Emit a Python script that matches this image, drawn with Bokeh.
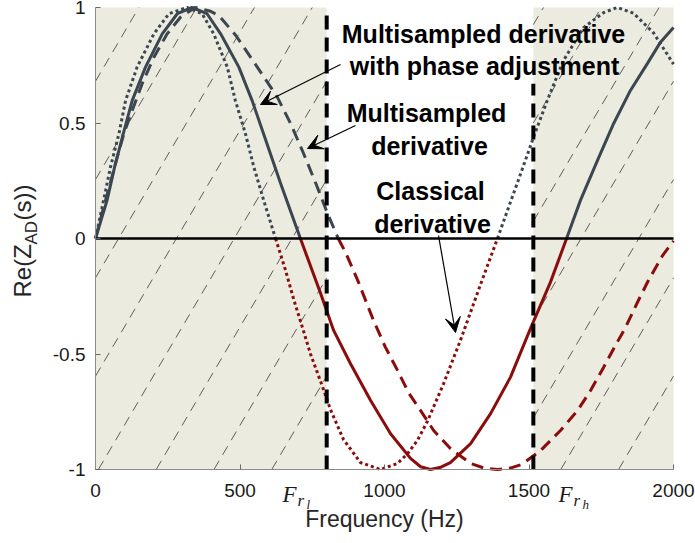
import numpy as np
from bokeh.plotting import figure
from bokeh.models import Range1d, FixedTicker, NumeralTickFormatter, Label, Arrow, VeeHead
from bokeh.embed import file_html
from bokeh.resources import INLINE

# ---------------- data ----------------
freq_classical = [0, 28, 52, 81, 104, 144, 202, 254, 317, 369, 409, 456, 484, 519, 548, 582, 623,
                  657, 685, 716, 744, 785, 813, 858, 917, 986, 1045, 1080, 1114, 1149, 1204, 1263,
                  1332, 1391, 1425, 1471, 1516, 1564, 1619, 1689, 1758, 1806, 1862, 1931, 2000]
re_classical = [0, 0.165, 0.31, 0.453, 0.597, 0.742, 0.886, 0.973, 1.0, 0.973, 0.886, 0.742, 0.597,
                0.453, 0.309, 0.165, 0,
                -0.135, -0.26, -0.385, -0.5, -0.64, -0.74, -0.87, -0.97, -1.0, -0.974, -0.931,
                -0.874, -0.79, -0.63, -0.44, -0.2, 0,
                0.12, 0.28, 0.44, 0.6, 0.77, 0.913, 0.978, 1.0, 0.975, 0.89, 0.755]

freq_multi = [0, 25, 52, 75, 98, 127, 161, 202, 248, 294, 345, 395, 427, 485, 561, 630, 675, 720,
              768, 803, 840,
              865, 907, 962, 1003, 1045, 1083, 1125, 1170, 1228, 1298, 1345, 1391, 1435, 1475, 1540,
              1609, 1668, 1713, 1758, 1799, 1834, 1875, 1913, 1962, 2000]
re_multi = [0, 0.12, 0.244, 0.352, 0.453, 0.554, 0.669, 0.785, 0.886, 0.958, 1.0, 0.985, 0.965,
            0.88, 0.74, 0.61, 0.498, 0.368, 0.221, 0.108, 0,
            -0.06, -0.18, -0.355, -0.47, -0.571, -0.667, -0.745, -0.831, -0.909, -0.974, -0.994,
            -1.0, -0.994, -0.978, -0.918, -0.831, -0.745, -0.658, -0.558, -0.463, -0.385, -0.277,
            -0.182, -0.074, -0.01]

freq_phase = [0, 40, 66, 96, 127, 173, 231, 283, 334, 386, 433, 496, 542, 588, 640, 709,
              779, 824, 882, 952, 1021, 1090, 1125, 1159, 1195, 1228, 1298, 1367, 1436, 1505,
              1574, 1630, 1678, 1737, 1793, 1851, 1910, 1955, 2000]
re_phase = [0, 0.165, 0.309, 0.453, 0.597, 0.742, 0.886, 0.973, 1.0, 0.973, 0.886, 0.742, 0.597,
            0.43, 0.24, 0,
            -0.238, -0.398, -0.541, -0.701, -0.845, -0.952, -0.988, -1.0, -0.99, -0.97, -0.888,
            -0.758, -0.6, -0.39, -0.19, 0,
            0.165, 0.338, 0.498, 0.641, 0.758, 0.85, 0.913]

F_RL = 800          # F_{r_l}
F_RH = 1515         # F_{r_h}
F_RH_TOP = 0.67     # top of the F_{r_h} marker line
x_ticks = [0, 500, 1000, 1500, 2000]
y_ticks = [-1, -0.5, 0, 0.5, 1]

# ---------------- layout ----------------
W, H = 695, 543
L, R, T, B = 95, 22, 7, 74          # where the data area sits inside the canvas
XMIN, XMAX, YMIN, YMAX = 0, 2000, -1, 1
FW, FH = W - L - R, H - T - B


def dx(px):
    return XMIN + (px - L) / FW * (XMAX - XMIN)


def dy(py):
    return YMAX - (py - T) / FH * (YMAX - YMIN)


GRAY = "#3b4650"
RED = "#8a0c0c"
BEIGE = "#ecebdf"
SANS = "Liberation Sans"
SERIF = "Liberation Serif"

p = figure(width=W, height=H, x_range=Range1d(dx(0), dx(W)), y_range=Range1d(dy(H), dy(0)),
           output_backend="svg", toolbar_location=None,
           min_border_left=0, min_border_right=0, min_border_top=0, min_border_bottom=0)
p.outline_line_color = None
p.xgrid.visible = False
p.ygrid.visible = False
p.background_fill_color = "white"
p.border_fill_color = "white"

# shaded regions
p.quad(left=[XMIN, F_RH], right=[F_RL, XMAX], bottom=[YMIN, YMIN], top=[YMAX, YMAX],
       fill_color=BEIGE, line_color=None)

# diagonal dashed hatching inside shaded regions
run = 470.0   # Hz per unit of y
xs, ys = [], []
for a, b in [(XMIN, F_RL), (F_RH, XMAX)]:
    for k in range(-6, 12):
        c = 10 + 200 * k
        y_lo = max(YMIN, (a - c) / run - 1)
        y_hi = min(YMAX, (b - c) / run - 1)
        if y_hi > y_lo:
            xs.append([c + (y_lo + 1) * run, c + (y_hi + 1) * run])
            ys.append([y_lo, y_hi])
p.multi_line(xs, ys, line_color="#3a3a3a", line_width=0.8, line_dash="10 7")


def draw_curve(fx, fy, dash, width):
    seg_x, seg_y = [fx[0]], [fy[0]]
    for i in range(1, len(fx)):
        seg_x.append(fx[i])
        seg_y.append(fy[i])
        if (fy[i] == 0 and i < len(fx) - 1) or i == len(fx) - 1:
            mid = seg_y[len(seg_y) // 2]
            col = GRAY if mid >= 0 else RED
            p.line(seg_x, seg_y, line_color=col, line_width=width, line_dash=dash)
            seg_x, seg_y = [fx[i]], [fy[i]]


draw_curve(freq_classical, re_classical, "3 3", 3)
draw_curve(freq_multi, re_multi, "12 7", 3)
draw_curve(freq_phase, re_phase, "solid", 3)

# zero line
p.line([XMIN, XMAX], [0, 0], line_color="black", line_width=2.5)

# F_r markers
p.segment(x0=[F_RL, F_RH], y0=[YMIN, YMIN], x1=[F_RL, F_RH], y1=[YMAX, F_RH_TOP],
          line_color="black", line_width=4, line_dash="14 8")

# axes (library axes pinned to the data area's edges)
p.xaxis.fixed_location = YMIN
p.yaxis.fixed_location = XMIN
p.xaxis.bounds = (XMIN, XMAX)
p.yaxis.bounds = (YMIN, YMAX)
p.xaxis.ticker = FixedTicker(ticks=x_ticks)
p.yaxis.ticker = FixedTicker(ticks=y_ticks)
p.yaxis.formatter = NumeralTickFormatter(format="0.[0]")
for ax in (p.xaxis[0], p.yaxis[0]):
    ax.axis_line_color = "#8c8c8c"
    ax.axis_line_width = 1
    ax.major_tick_in = 5
    ax.major_tick_out = 0
    ax.major_tick_line_color = "#666666"
    ax.minor_tick_line_color = None
    ax.major_label_text_font = SANS
    ax.major_label_text_font_size = "19px"
    ax.major_label_text_color = "#1a1a1a"
p.xaxis.major_label_standoff = 14
p.yaxis.major_label_standoff = 10
p.xaxis.axis_label = "Frequency (Hz)"
p.xaxis.axis_label_text_font = SANS
p.xaxis.axis_label_text_font_size = "23px"
p.xaxis.axis_label_text_font_style = "normal"
p.xaxis.axis_label_text_color = "#262626"
p.xaxis.axis_label_standoff = 6

# y axis label  Re(Z_AD(s))  (rotated pieces, positioned by their centre line)
ang = np.pi / 2
for txt, cx, start_py, size in [("Re(Z", 22, 297, "24px"), ("AD", 31, 244, "17px"),
                                ("(s))", 22, 220, "24px")]:
    p.add_layout(Label(x=dx(cx), y=dy(start_py), text=txt, angle=ang, text_align="left",
                       text_baseline="middle", text_font=SANS, text_font_size=size,
                       text_color="#262626"))

# F_{r_l}, F_{r_h} labels under the axis
for left_px, sub2 in [(282, "l"), (558, "h")]:
    p.add_layout(Label(x=dx(left_px), y=dy(494), text="F", text_font=SERIF,
                       text_font_style="italic", text_font_size="23px", text_align="left",
                       text_baseline="middle", text_color="#1a1a1a"))
    p.add_layout(Label(x=dx(left_px + 15), y=dy(500), text="r", text_font=SERIF,
                       text_font_style="italic", text_font_size="17px", text_align="left",
                       text_baseline="middle", text_color="#1a1a1a"))
    p.add_layout(Label(x=dx(left_px + 24), y=dy(504), text=sub2, text_font=SERIF,
                       text_font_style="italic", text_font_size="13px", text_align="left",
                       text_baseline="middle", text_color="#1a1a1a"))

# annotations
for txt, cx, cy in [("Multisampled derivative", 483, 33), ("with phase adjustment", 484, 65),
                    ("Multisampled", 426, 112), ("derivative", 429, 145),
                    ("Classical", 430, 190), ("derivative", 432, 223)]:
    p.add_layout(Label(x=dx(cx), y=dy(cy), text=txt, text_align="center", text_baseline="middle",
                       text_font=SANS, text_font_style="bold", text_font_size="25px",
                       text_color="black"))

for (sx, sy), (ex, ey) in [((340, 64), (260, 104)), ((355, 125), (307, 148)), ((438, 235), (455, 332))]:
    p.add_layout(Arrow(end=VeeHead(size=15, fill_color="black", line_color="black", line_width=1),
                       x_start=dx(sx), y_start=dy(sy), x_end=dx(ex), y_end=dy(ey),
                       line_color="black", line_width=1.2))

open("out.html", "w").write(file_html(p, INLINE))
